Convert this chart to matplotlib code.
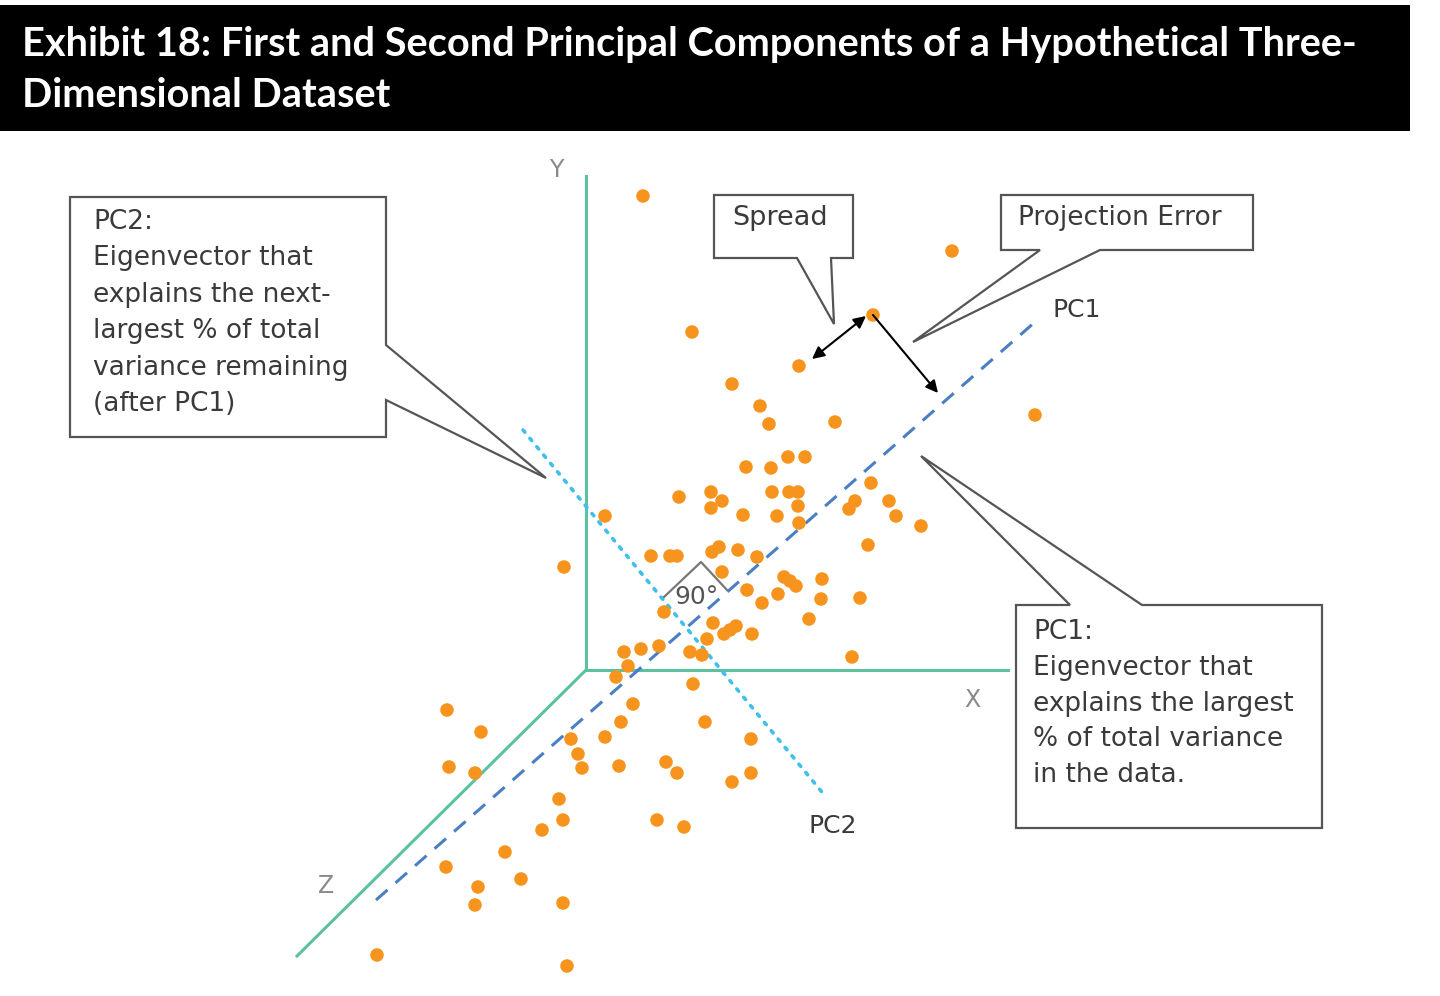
import matplotlib.pyplot as plt
from matplotlib.patches import Polygon, Rectangle

# data points (pixel space, y down)
pts_x = [643, 952, 873, 692, 799, 732, 760, 769, 835, 1035,
         788, 805, 746, 771, 679, 711, 722, 711, 772, 789, 798, 798, 743, 777, 799,
         871, 855, 849, 889, 896, 921, 868, 605, 564, 651, 670, 677, 712, 719, 738,
         757, 722, 747, 784, 790, 796, 822, 778, 762, 821, 860, 809, 664, 713, 736,
         730, 724, 752, 707, 624, 641, 659, 690, 702, 852, 628, 616, 693,
         447, 481, 633, 621, 605, 705, 751, 571, 449, 475, 578, 582, 619, 666, 677,
         732, 751, 559, 563, 542, 657, 684, 505, 446, 521, 478, 475, 563, 377, 567]
pts_y = [196, 251, 315, 332, 366, 384, 406, 424, 422, 415,
         457, 457, 467, 468, 497, 492, 501, 508, 492, 492, 492, 506, 515, 516, 523,
         483, 501, 509, 501, 516, 526, 545, 516, 567, 556, 556, 556, 552, 547, 550,
         557, 572, 590, 577, 581, 586, 579, 594, 603, 599, 598, 619, 612, 623, 626,
         630, 634, 634, 639, 652, 649, 646, 652, 655, 657, 666, 677, 684,
         710, 732, 704, 722, 737, 722, 739, 739, 767, 773, 754, 768, 766, 762, 773,
         782, 773, 799, 820, 830, 820, 827, 852, 867, 879, 887, 905, 903, 955, 966]

title_lines = ["Exhibit 18: First and Second Principal Components of a Hypothetical Three-",
               "Dimensional Dataset"]
pc2_text = ["PC2:", "Eigenvector that", "explains the next-", "largest % of total",
            "variance remaining", "(after PC1)"]
pc1_text = ["PC1:", "Eigenvector that", "explains the largest",
            "% of total variance", "in the data."]

AXIS_C = '#5cc1a1'
DOT_C = '#f7941d'
BOX_C = '#555555'
TXT_C = '#3a3a3a'
FONT = 'DejaVu Sans'

fig = plt.figure(figsize=(14.4, 9.96), dpi=100)
ax = fig.add_axes([0, 0, 1, 1])
ax.set_xlim(0, 1440)
ax.set_ylim(996, 0)
ax.axis('off')

# title bar
ax.add_patch(Rectangle((0, 5), 1410, 126, facecolor='black', edgecolor='none'))
for i, line in enumerate(title_lines):
    ax.text(22, 44 + 51 * i, line, color='white', fontsize=28.6, fontweight='bold',
            family='Lato', va='center', ha='left')

# 3-D axes
ax.plot([586, 586], [670, 176], color=AXIS_C, lw=2.2, zorder=2)
ax.plot([586, 1008], [670, 670], color=AXIS_C, lw=2.2, zorder=2)
ax.plot([586, 297], [670, 956], color=AXIS_C, lw=2.2, zorder=2)
for lbl, (x, y) in {'Y': (556, 170), 'X': (972, 700), 'Z': (326, 886)}.items():
    ax.text(x, y, lbl, color='#8a8a8a', fontsize=17, family=FONT, ha='center', va='center')

# principal components
ax.plot([376, 1035], [900, 322], color='#4a7fc1', lw=2.2, ls=(0, (5, 3.5)), zorder=2)
ax.plot([523, 826], [430, 797], color='#3fc0ea', lw=2.6, ls=(0, (0.8, 2.2)),
        dash_capstyle='round', zorder=2)
ax.text(1077, 310, 'PC1', color=TXT_C, fontsize=18, family=FONT, ha='center', va='center')
ax.text(833, 826, 'PC2', color=TXT_C, fontsize=18, family=FONT, ha='center', va='center')

# points
ax.scatter(pts_x, pts_y, s=95, color=DOT_C, edgecolors='none', zorder=3)

# right-angle marker
ax.plot([664, 701, 727], [597, 562, 590], color='#777777', lw=1.6, zorder=4)
ax.text(697, 597, '90°', color='#555555', fontsize=18, family=FONT, ha='center',
        va='center', zorder=4)

# arrows
ax.annotate('', xy=(812, 359), xytext=(866, 316),
            arrowprops=dict(arrowstyle='<|-|>', color='black', lw=1.5,
                            mutation_scale=18, shrinkA=0, shrinkB=0), zorder=5)
ax.annotate('', xy=(938, 393), xytext=(873, 315),
            arrowprops=dict(arrowstyle='-|>', color='black', lw=1.5,
                            mutation_scale=18, shrinkA=0, shrinkB=0), zorder=5)

# callout boxes
callouts = [
    [(70, 197), (386, 197), (386, 345), (546, 478), (386, 400), (386, 437), (70, 437)],
    [(714, 195), (853, 195), (853, 258), (831, 258), (834, 324), (797, 258), (714, 258)],
    [(1001, 195), (1253, 195), (1253, 250), (1100, 250), (913, 342), (1040, 250), (1001, 250)],
    [(1016, 605), (1070, 605), (921, 456), (1142, 605), (1322, 605), (1322, 828), (1016, 828)],
]
for verts in callouts:
    ax.add_patch(Polygon(verts, closed=True, facecolor='white', edgecolor=BOX_C,
                         lw=1.6, joinstyle='miter', zorder=6))

for i, line in enumerate(pc2_text):
    ax.text(93, 222 + 36.4 * i, line, color=TXT_C, fontsize=19, family=FONT,
            va='center', ha='left', zorder=7)
for i, line in enumerate(pc1_text):
    ax.text(1033, 632 + 35.8 * i, line, color=TXT_C, fontsize=19, family=FONT,
            va='center', ha='left', zorder=7)
ax.text(732, 218, 'Spread', color=TXT_C, fontsize=19.5, family=FONT, va='center', ha='left', zorder=7)
ax.text(1018, 218, 'Projection Error', color=TXT_C, fontsize=19, family=FONT,
        va='center', ha='left', zorder=7)

fig.savefig('out.png', dpi=100)
